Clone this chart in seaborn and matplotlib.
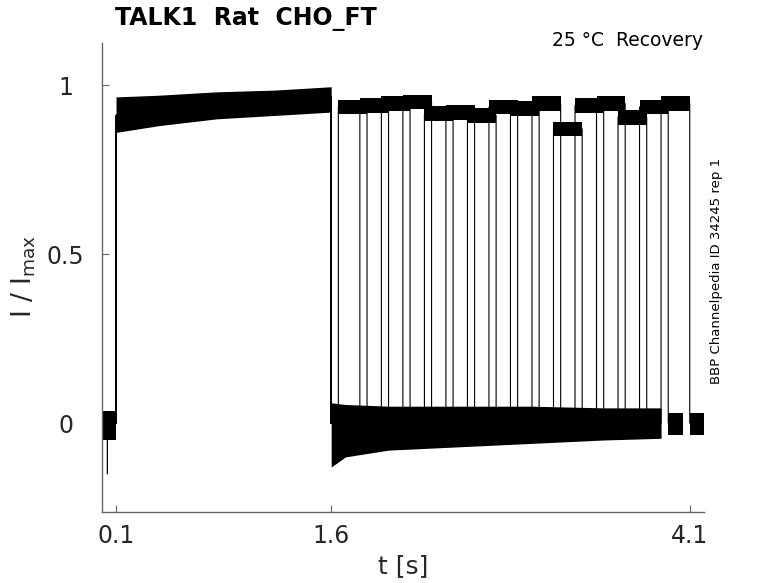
import numpy as np
import pandas as pd
import matplotlib
matplotlib.use("Agg")
import matplotlib.pyplot as plt
import seaborn as sns

# valeurs
pulse1_on = 0.1
pulse1_off = 1.6
pulse2_len = 0.2
tail_len = 0.1

# debut du 2e pulse pour chaque trace
pulse2_start = [1.65, 1.80, 1.95, 2.10, 2.25, 2.40, 2.55, 2.70,
                2.85, 3.00, 3.15, 3.30, 3.45, 3.60, 3.75, 3.90]
# niveau moyen du 2e pulse
pulse2_level = [0.935, 0.94, 0.945, 0.95, 0.915, 0.92, 0.91, 0.935,
                0.93, 0.945, 0.87, 0.94, 0.945, 0.905, 0.935, 0.945]

# enveloppe du bruit, 1er pulse
p1_t = [0.1, 0.4, 0.8, 1.2, 1.6]
p1_low = [0.86, 0.88, 0.90, 0.91, 0.92]
p1_high = [0.965, 0.97, 0.98, 0.985, 0.995]

# enveloppe du bruit, ligne de base apres 1.6 s
base_t = [1.6, 1.7, 2.0, 2.5, 3.0, 3.5, 3.9]
base_low = [-0.13, -0.10, -0.08, -0.07, -0.06, -0.05, -0.045]
base_high = [0.06, 0.055, 0.05, 0.05, 0.05, 0.045, 0.045]

# ligne de base avant le pulse
pre_t = [0.0, 0.1]
pre_low = [-0.05, -0.05]
pre_high = [0.035, 0.035]
# pic negatif avant le pulse
dip_t = 0.04
dip_I = -0.15

xticks = [0.1, 1.6, 4.1]
yticks = [0, 0.5, 1]
ytick_labels = ["0", "0.5", "1"]

noise_half = 0.022

rows = []
for k, (s, lvl) in enumerate(zip(pulse2_start, pulse2_level)):
    pts = [(0.0, 0.0)]
    if k == 0:
        pts += [(dip_t, 0.0), (dip_t, dip_I), (dip_t, 0.0)]
    pts += [(pulse1_on, 0.0), (pulse1_on, p1_low[0] + 0.05),
            (pulse1_off, p1_high[-1] - 0.03), (pulse1_off, 0.0),
            (s, 0.0), (s, lvl), (s + pulse2_len, lvl), (s + pulse2_len, 0.0),
            (s + pulse2_len + tail_len, 0.0)]
    for i, (t, y) in enumerate(pts):
        rows.append({"trace": k, "order": i, "t": t, "I": y})
df = pd.DataFrame(rows)

sns.set_theme(style="ticks")
plt.rcParams["font.family"] = ["DejaVu Sans"]
plt.rcParams["xtick.direction"] = "in"
plt.rcParams["ytick.direction"] = "in"

fig = plt.figure(figsize=(7.78, 5.83), dpi=100)
ax = fig.add_axes([0.1307, 0.1218, 0.7743, 0.8042])

sns.lineplot(data=df, x="t", y="I", units="trace", estimator=None,
             sort=False, color="black", linewidth=0.8, ax=ax)

ax.fill_between(pre_t, pre_low, pre_high, color="black", lw=0)
ax.fill_between(p1_t, p1_low, p1_high, color="black", lw=0)
ax.fill_between(base_t, base_low, base_high, color="black", lw=0)
for s, lvl in zip(pulse2_start, pulse2_level):
    ax.fill_between([s, s + pulse2_len], [lvl - noise_half] * 2,
                    [lvl + noise_half] * 2, color="black", lw=0)
    e = s + pulse2_len
    ax.fill_between([e, e + tail_len], [-0.035] * 2, [0.03] * 2,
                    color="black", lw=0)

ax.set_xlim(0, 4.2)
ax.set_ylim(-0.263, 1.124)
ax.set_xticks(xticks)
ax.set_xticklabels([str(v) for v in xticks])
ax.set_yticks(yticks)
ax.set_yticklabels(ytick_labels)
ax.tick_params(axis="both", labelsize=17, colors="#262626", length=5,
               width=0.8, color="#666666")
ax.tick_params(axis="x", pad=9)
ax.tick_params(axis="y", pad=26)
for lab in ax.get_yticklabels():
    lab.set_horizontalalignment("center")
for side in ["top", "right"]:
    ax.spines[side].set_visible(False)
for side in ["left", "bottom"]:
    ax.spines[side].set_color("#666666")
    ax.spines[side].set_linewidth(1.0)

ax.set_xlabel("t [s]", fontsize=18, color="#262626", va="center")
ax.xaxis.set_label_coords(0.5, -0.115)
ax.set_ylabel(r"I / I$_{\mathregular{max}}$", fontsize=19, color="#262626",
              va="center")
ax.yaxis.set_label_coords(-0.129, 0.503)

fig.text(0.148, 0.968, "TALK1  Rat  CHO_FT", fontsize=17, fontweight="bold",
         ha="left", va="center", color="black")
fig.text(0.903, 0.93, "25 °C  Recovery", fontsize=13.5, ha="right",
         va="center", color="black")
fig.text(0.921, 0.535, "BBP Channelpedia ID 34245 rep 1", fontsize=9.5,
         rotation=90, ha="center", va="center", color="black")

fig.savefig("out.png", dpi=100)
